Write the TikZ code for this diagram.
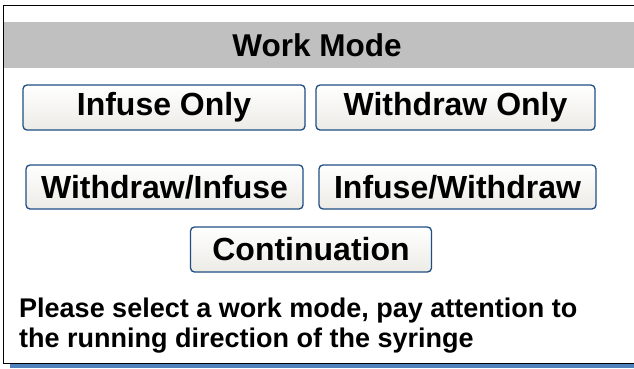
\documentclass[tikz,border=0pt]{standalone}
\usepackage{fontspec}
\setmainfont{Liberation Sans}
\definecolor{bandgray}{HTML}{C0C0C0}
\definecolor{btnedge}{HTML}{1F4E83}
\definecolor{btnlow}{HTML}{ECEBE6}
\definecolor{barblue}{HTML}{4F81BD}
\tikzset{
  btn/.style={draw=btnedge, line width=1.3pt, rounded corners=4pt,
    top color=white, bottom color=btnlow, inner sep=0pt,
    font=\fontsize{32}{34}\selectfont\bfseries},
}
\begin{document}
\begin{tikzpicture}[x=1pt,y=-1pt]
      \useasboundingbox (0,0) rectangle (634,368);
      % frame and title band
      \fill[bandgray] (3,22) rectangle (634,68);
      \fill[barblue] (10,364) rectangle (634,368);
      \draw[line width=1pt] (634,5) -- (3.5,5) -- (3.5,363.5) -- (634,363.5);
      \node (title) at (317,45) {\fontsize{31.5}{33}\selectfont\bfseries Work Mode};
      % buttons
      \node[btn, minimum width=282pt, minimum height=45pt] (infuse) at (164,107.5) {Infuse Only};
      \node[btn, minimum width=279pt, minimum height=45pt] (withdraw) at (455.5,107.5) {Withdraw Only};
      \node[btn, minimum width=277pt, minimum height=44pt] (wi) at (164.5,187) {Withdraw/Infuse};
      \node[btn, minimum width=277pt, minimum height=44pt] (iw) at (457.5,187) {Infuse/Withdraw};
      \node[btn, minimum width=241pt, minimum height=45pt] (cont) at (311,249.5) {Continuation};
      % hint text (base = last line)
      \node[anchor=base west, align=left, inner sep=0pt,
        font=\fontsize{27}{30}\selectfont\bfseries] (hint) at (19,347)
        {Please select a work mode, pay attention to\\the running direction of the syringe};
    \end{tikzpicture}
\end{document}
